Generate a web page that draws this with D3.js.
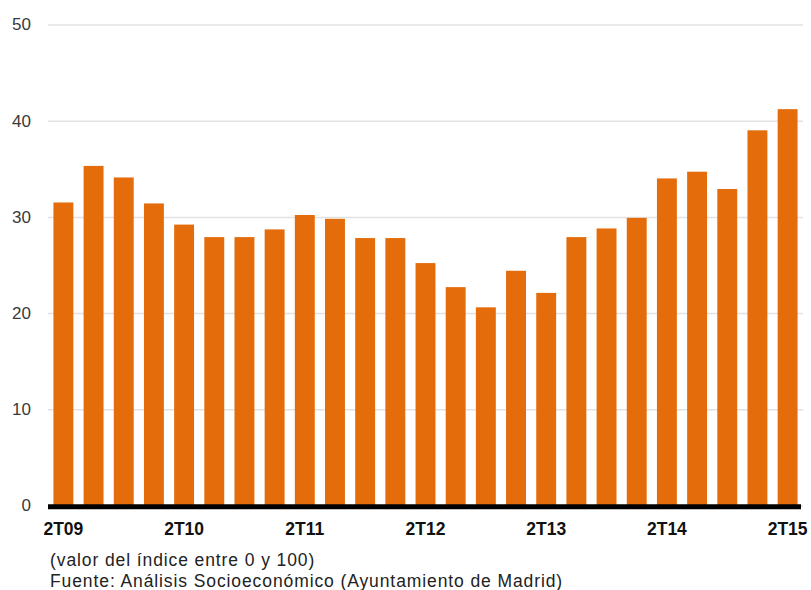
<!DOCTYPE html>
<html>
<head>
<meta charset="utf-8">
<script src="https://cdn.jsdelivr.net/npm/d3@7"></script>
<style>
  body { margin: 0; background: #fff; }
  svg { display: block; font-family: "Liberation Sans", Arial, sans-serif; }
</style>
</head>
<body>
<div id="chart"></div>
<script>
// quarters 2T09 .. 2T15
var quarters = ["2T09","3T09","4T09","1T10","2T10","3T10","4T10","1T11","2T11","3T11","4T11","1T12",
  "2T12","3T12","4T12","1T13","2T13","3T13","4T13","1T14","2T14","3T14","4T14","1T15","2T15"];
var values = [31.5, 35.3, 34.1, 31.4, 29.2, 27.9, 27.9, 28.7, 30.2, 29.8, 27.8, 27.8,
  25.2, 22.7, 20.6, 24.4, 22.1, 27.9, 28.8, 29.9, 34.0, 34.7, 32.9, 39.0, 41.2];
var yTicks = [0, 10, 20, 30, 40, 50];
var xLabels = ["2T09","2T10","2T11","2T12","2T13","2T14","2T15"];
var notes = ["(valor del índice entre 0 y 100)", "Fuente: Análisis Socioeconómico (Ayuntamiento de Madrid)"];

var svgW = 811;
var svgH = 590;

var svg = d3.select("#chart")
  .append("svg")
  .attr("width", svgW)
  .attr("height", svgH);

var x = d3.scaleBand()
  .domain(quarters)
  .range([48, 803])
  .paddingInner(0.34)
  .paddingOuter(0.18);

var y = d3.scaleLinear()
  .domain([0, 50])
  .range([505.5, 24.5]);

// gridlines + y labels
var yAxis = svg.append("g")
  .attr("transform", "translate(48,0)")
  .call(d3.axisLeft(y).tickValues(yTicks).tickSize(-755).tickPadding(17));

yAxis.select(".domain").remove();
yAxis.selectAll(".tick line")
  .attr("stroke", "#e2e2e2")
  .attr("stroke-width", 1.5);
yAxis.selectAll(".tick text")
  .attr("fill", "#3a3a3a")
  .attr("font-size", "17px")
  .attr("font-family", "Liberation Sans, Arial, sans-serif");

// bars
svg.append("g")
  .selectAll("rect")
  .data(values)
  .enter()
  .append("rect")
  .attr("x", (d, i) => x(quarters[i]))
  .attr("width", x.bandwidth())
  .attr("y", d => y(d))
  .attr("height", d => y(0) - y(d))
  .attr("fill", "#e46c0b");

// baseline
svg.append("line")
  .attr("x1", 48)
  .attr("x2", 801)
  .attr("y1", y(0) + 1.3)
  .attr("y2", y(0) + 1.3)
  .attr("stroke", "#000")
  .attr("stroke-width", 5);

// x labels
var xAxis = svg.append("g")
  .attr("transform", `translate(0, ${y(0)})`)
  .call(d3.axisBottom(x).tickValues(xLabels).tickSize(0).tickPadding(17));

xAxis.select(".domain").remove();
xAxis.selectAll(".tick text")
  .attr("fill", "#111")
  .attr("font-size", "17.5px")
  .attr("font-weight", "bold")
  .attr("font-family", "Liberation Sans, Arial, sans-serif");

// footnotes
svg.selectAll(".note")
  .data(notes)
  .enter()
  .append("text")
  .attr("class", "note")
  .attr("x", 50)
  .attr("y", (d, i) => 566 + i * 20.5)
  .attr("fill", "#222")
  .attr("font-size", "17.5px")
  .attr("letter-spacing", "0.9px")
  .text(d => d);
</script>
</body>
</html>
